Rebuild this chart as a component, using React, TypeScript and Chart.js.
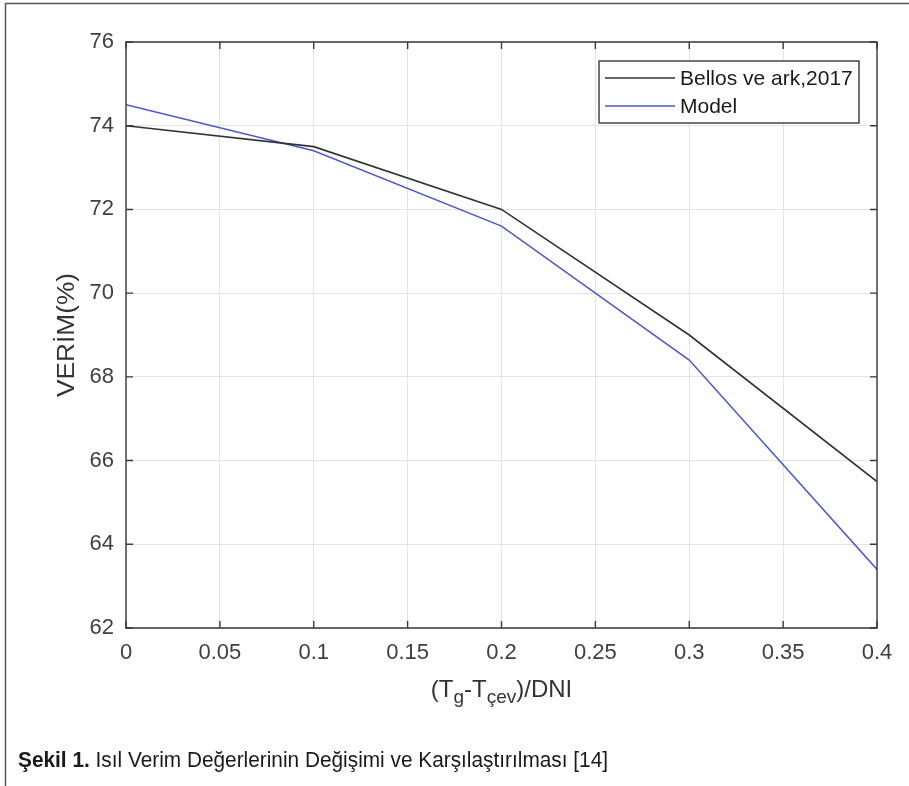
import React, { useEffect, useRef } from "react";
import { Chart, registerables } from "chart.js";

Chart.register(...registerables);

const xValues = [0, 0.1, 0.2, 0.3, 0.4];
const bellosValues = [74.0, 73.5, 72.0, 69.0, 65.5];
const modelValues = [74.5, 73.4, 71.6, 68.4, 63.4];
const seriesLabels = ["Bellos ve ark,2017", "Model"];
const xTicks = [0, 0.05, 0.1, 0.15, 0.2, 0.25, 0.3, 0.35, 0.4];
const yTicks = [62, 64, 66, 68, 70, 72, 74, 76];
const yTitle = "VERİM(%)";
const captionBold = "Şekil 1.";
const captionRest = " Isıl Verim Değerlerinin Değişimi ve Karşılaştırılması [14]";

const FONT = "'Liberation Sans', Arial, sans-serif";
const W = 909;
const H = 786;

const decorPlugin = {
  id: "decor",
  afterDatasetsDraw(chart: any) {
    const ctx = chart.ctx as CanvasRenderingContext2D;
    const { left, right, top, bottom } = chart.chartArea;
    const xs = chart.scales.x;
    const ys = chart.scales.y;
    ctx.save();
    ctx.strokeStyle = "#3a3a3a";
    ctx.lineWidth = 1.4;
    ctx.beginPath();
    ctx.rect(left, top, right - left, bottom - top);
    ctx.stroke();
    const tl = 7;
    ctx.beginPath();
    xTicks.forEach((v) => {
      const px = xs.getPixelForValue(v);
      ctx.moveTo(px, bottom);
      ctx.lineTo(px, bottom - tl);
      ctx.moveTo(px, top);
      ctx.lineTo(px, top + tl);
    });
    yTicks.forEach((v) => {
      const py = ys.getPixelForValue(v);
      ctx.moveTo(left, py);
      ctx.lineTo(left + tl, py);
      ctx.moveTo(right, py);
      ctx.lineTo(right - tl, py);
    });
    ctx.stroke();
    ctx.restore();
  },
  afterDraw(chart: any) {
    const ctx = chart.ctx as CanvasRenderingContext2D;
    const { left, right, top, bottom } = chart.chartArea;
    ctx.save();

    // outer frame (left + top)
    ctx.strokeStyle = "#555";
    ctx.lineWidth = 1.5;
    ctx.beginPath();
    ctx.moveTo(5.5, H);
    ctx.lineTo(5.5, 3.5);
    ctx.lineTo(W, 3.5);
    ctx.stroke();

    // legend
    const lx = 599, ly = 61, lw = 260, lh = 62;
    ctx.fillStyle = "#fff";
    ctx.fillRect(lx, ly, lw, lh);
    ctx.strokeStyle = "#3a3a3a";
    ctx.lineWidth = 1.4;
    ctx.strokeRect(lx, ly, lw, lh);
    ctx.font = `21px ${FONT}`;
    ctx.textBaseline = "middle";
    ctx.textAlign = "left";
    chart.data.datasets.forEach((ds: any, i: number) => {
      const y = 78 + i * 28;
      ctx.strokeStyle = ds.borderColor;
      ctx.lineWidth = ds.borderWidth;
      ctx.beginPath();
      ctx.moveTo(605, y);
      ctx.lineTo(675, y);
      ctx.stroke();
      ctx.fillStyle = "#1a1a1a";
      ctx.fillText(ds.label, 680, y + 1);
    });

    // y title
    ctx.fillStyle = "#333";
    ctx.font = `23px ${FONT}`;
    ctx.textAlign = "center";
    ctx.textBaseline = "alphabetic";
    const yw = ctx.measureText(yTitle).width;
    ctx.save();
    ctx.translate(74, (top + bottom) / 2);
    ctx.rotate(-Math.PI / 2);
    ctx.scale(124 / yw, 1);
    ctx.fillText(yTitle, 0, 0);
    ctx.restore();

    // x title with subscripts
    const parts: [string, boolean][] = [
      ["(T", false],
      ["g", true],
      ["-T", false],
      ["çev", true],
      [")/DNI", false],
    ];
    const big = `24px ${FONT}`;
    const small = `19px ${FONT}`;
    let total = 0;
    parts.forEach(([t, sub]) => {
      ctx.font = sub ? small : big;
      total += ctx.measureText(t).width;
    });
    let cx = (left + right) / 2 - total / 2;
    const by = 697;
    ctx.textAlign = "left";
    parts.forEach(([t, sub]) => {
      ctx.font = sub ? small : big;
      ctx.fillText(t, cx, sub ? by + 6 : by);
      cx += ctx.measureText(t).width;
    });

    // caption
    ctx.fillStyle = "#1a1a1a";
    const capX = 18, capY = 767, capEnd = 608;
    const bFont = `bold 22px ${FONT}`;
    const nFont = `22px ${FONT}`;
    ctx.font = bFont;
    const wb = ctx.measureText(captionBold).width;
    ctx.font = nFont;
    const wn = ctx.measureText(captionRest).width;
    const sx = (capEnd - capX) / (wb + wn);
    ctx.save();
    ctx.translate(capX, capY);
    ctx.scale(sx, 1);
    ctx.font = bFont;
    ctx.fillText(captionBold, 0, 0);
    ctx.font = nFont;
    ctx.fillText(captionRest, wb, 0);
    ctx.restore();

    ctx.restore();
  },
};

export default function App() {
  const ref = useRef<HTMLCanvasElement>(null);
  useEffect(() => {
    if (!ref.current) return;
    const chart = new Chart(ref.current, {
      type: "line",
      data: {
        datasets: [
          {
            label: seriesLabels[0],
            data: xValues.map((x, i) => ({ x, y: bellosValues[i] })),
            borderColor: "#333333",
            borderWidth: 1.6,
            pointRadius: 0,
            tension: 0,
          },
          {
            label: seriesLabels[1],
            data: xValues.map((x, i) => ({ x, y: modelValues[i] })),
            borderColor: "#4d58c4",
            borderWidth: 1.5,
            pointRadius: 0,
            tension: 0,
          },
        ],
      },
      options: {
        animation: false,
        responsive: false,
        devicePixelRatio: 1,
        layout: { padding: { left: 0, top: 42, right: 32, bottom: 0 } },
        plugins: { legend: { display: false }, tooltip: { enabled: false } },
        scales: {
          x: {
            type: "linear",
            min: 0,
            max: 0.4,
            afterBuildTicks: (s: any) => {
              s.ticks = xTicks.map((v) => ({ value: v }));
            },
            afterFit: (s: any) => {
              s.height = H - 628;
            },
            grid: { color: "#e3e3e3", lineWidth: 1, drawTicks: false },
            border: { display: false },
            ticks: {
              padding: 12,
              color: "#404040",
              font: { family: FONT, size: 22 },
              maxRotation: 0,
              autoSkip: false,
              callback: (v: any) => String(Number(Number(v).toFixed(2))),
            },
          },
          y: {
            type: "linear",
            min: 62,
            max: 76,
            afterBuildTicks: (s: any) => {
              s.ticks = yTicks.map((v) => ({ value: v }));
            },
            afterFit: (s: any) => {
              s.width = 126;
            },
            grid: { color: "#e3e3e3", lineWidth: 1, drawTicks: false },
            border: { display: false },
            ticks: {
              padding: 12,
              color: "#404040",
              font: { family: FONT, size: 22 },
              autoSkip: false,
              callback: (v: any) => String(v),
            },
          },
        },
      },
      plugins: [decorPlugin],
    } as any);
    return () => chart.destroy();
  }, []);
  return (
    <div style={{ position: "absolute", left: 0, top: 0, width: W, height: H, background: "#fff" }}>
      <canvas ref={ref} width={W} height={H} style={{ display: "block" }} />
    </div>
  );
}
